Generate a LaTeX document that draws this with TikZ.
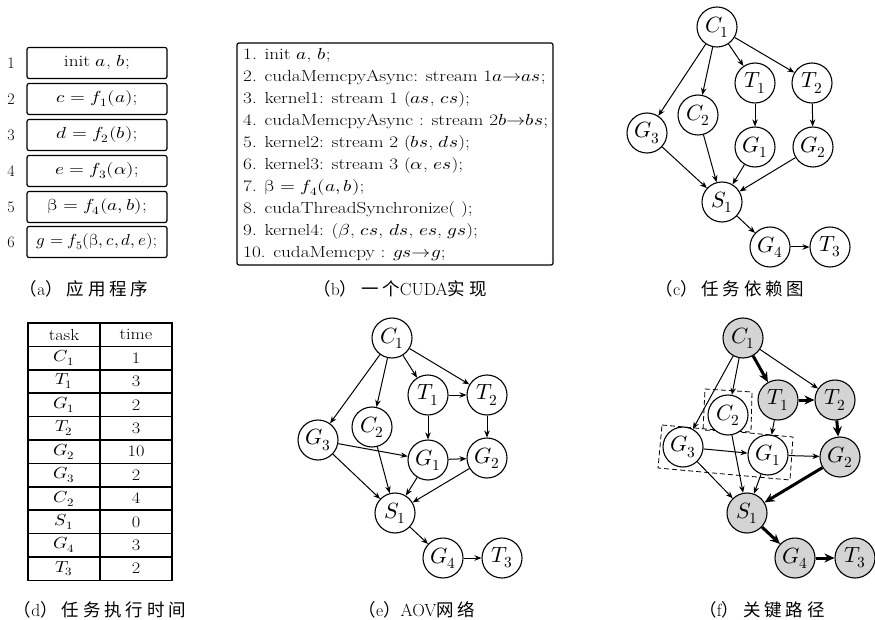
\documentclass[tikz,border=0pt]{standalone}
\usepackage{graphicx}
\usepackage{fontspec}
\usepackage{unicode-math}
\setmathfont{Latin Modern Math}
\newfontfamily\cjk[LetterSpace=22]{Noto Sans CJK SC}
\usetikzlibrary{arrows.meta}

\tikzset{
  vtx/.style={circle,draw,line width=1.1pt,minimum size=40pt,inner sep=0pt,fill=white,
    font=\fontsize{22}{22}\selectfont},
  hot/.style={vtx,fill=black!17},
  arr/.style={-{Stealth[length=7pt,width=5.5pt]},line width=1pt},
  crit/.style={-{Stealth[length=10pt,width=9pt]},line width=3pt},
  codebox/.style={draw,rounded corners=2pt,line width=1.2pt,minimum width=140pt,
    minimum height=31pt,inner sep=0pt,font=\fontsize{16}{16}\selectfont},
  rownum/.style={font=\fontsize{16}{16}\selectfont},
  codeline/.style={anchor=west,inner sep=0pt,font=\fontsize{16}{16}\selectfont},
  cell/.style={inner sep=0pt,font=\fontsize{16}{16}\selectfont},
  grid/.style={line width=1.5pt},
  caption/.style={font=\fontsize{17.5}{17.5}\selectfont},
  group/.style={dashed,dash pattern=on 5pt off 3pt,line width=0.8pt},
}
\newcommand\ul[1]{{\cjk #1}}
\newcommand\wide[1]{\scalebox{1.2}[1]{#1}}

\begin{document}
\begin{tikzpicture}[x=1pt,y=-1pt]
\useasboundingbox (0,0) rectangle (875,620);

% ---------- (a) program ----------
\foreach \n/\y in {1/63,2/99,3/135,4/171,5/207,6/242}
  \node[rownum] (num\n) at (11,\y) {\n};
\node[codebox] (s1) at (97,63)  {\wide{init $a$, $b$;}};
\node[codebox] (s2) at (97,99)  {\wide{$c=f_1(a)$;}};
\node[codebox] (s3) at (97,135) {\wide{$d=f_2(b)$;}};
\node[codebox] (s4) at (97,171) {\wide{$e=f_3(\alpha)$;}};
\node[codebox] (s5) at (97,207) {\wide{$\symup{\beta}=f_4(a,b)$;}};
\node[codebox] (s6) at (97,242) {\scalebox{1.06}[1]{$g=f_5(\symup{\beta},c,d,e)$;}};
\node[caption] (capa) at (84,289) {\ul{（}a\ul{）应用程序}};

% ---------- (b) CUDA code ----------
\node[draw,rounded corners=2pt,line width=1.2pt,minimum width=316pt,minimum height=222pt,
  inner sep=0pt] (cudabox) at (395,154) {};
\node[codeline] (l1)  at (243,56)    {\wide{1. init $a$, $b$;}};
\node[codeline] (l2)  at (243,77.9)  {\wide{2. cudaMemcpyAsync: stream 1$a$$\rightarrow$$as$;}};
\node[codeline] (l3)  at (243,99.8)  {\wide{3. kernel1: stream 1 ($as$, $cs$);}};
\node[codeline] (l4)  at (243,121.7) {\wide{4. cudaMemcpyAsync : stream 2$b$$\rightarrow$$bs$;}};
\node[codeline] (l5)  at (243,143.6) {\wide{5. kernel2: stream 2 ($bs$, $ds$);}};
\node[codeline] (l6)  at (243,165.5) {\wide{6. kernel3: stream 3 ($\alpha$, $es$);}};
\node[codeline] (l7)  at (243,187.4) {\wide{7. $\symup{\beta}=f_4(a, b)$;}};
\node[codeline] (l8)  at (243,209.3) {\wide{8. cudaThreadSynchronize( );}};
\node[codeline] (l9)  at (243,231.2) {\wide{9. kernel4: ($\beta$, $cs$, $ds$, $es$, $gs$);}};
\node[codeline] (l10) at (243,253.1) {\wide{10. cudaMemcpy : $gs$$\rightarrow$$g$;}};
\node[caption] (capb) at (400,289) {\ul{（}b\ul{）一个}CUDA\ul{实现}};

% ---------- (c) task dependency graph ----------
\node[vtx] (cC1) at (717,27)  {$C_1$};
\node[vtx] (cT1) at (755,83)  {$T_1$};
\node[vtx] (cT2) at (812,83)  {$T_2$};
\node[vtx] (cC2) at (698,115) {$C_2$};
\node[vtx] (cG3) at (647,133) {$G_3$};
\node[vtx] (cG1) at (755,147) {$G_1$};
\node[vtx] (cG2) at (813,147) {$G_2$};
\node[vtx] (cS1) at (722,202) {$S_1$};
\node[vtx] (cG4) at (770,247) {$G_4$};
\node[vtx] (cT3) at (830,247) {$T_3$};
\foreach \a/\b in {cC1/cG3,cC1/cC2,cC1/cT1,cC1/cT2,cT1/cG1,cT2/cG2,
                   cG3/cS1,cC2/cS1,cG1/cS1,cG2/cS1,cS1/cG4,cG4/cT3}
  \draw[arr] (\a) -- (\b);
\node[caption] (capc) at (730,289) {\ul{（}c\ul{）任务依赖图}};

% ---------- (d) task times ----------
\foreach \k in {1,...,10}
  \draw[grid] (28,{323+23.4*\k}) -- (172,{323+23.4*\k});
\draw[grid] (100,323) -- (100,580.4);
\draw[grid] (28,323) rectangle (172,580.4);
\foreach \t/\v [count=\k from 0] in {task/time,$C_1$/1,$T_1$/3,$G_1$/2,$T_2$/3,
      $G_2$/10,$G_3$/2,$C_2$/4,$S_1$/0,$G_4$/3,$T_3$/2}{
  \node[cell] (task\k) at (64,{323+23.4*(\k+0.5)}) {\scalebox{1.15}[1]{\t}};
  \node[cell] (time\k) at (136,{323+23.4*(\k+0.5)}) {\scalebox{1.15}[1]{\v}};
}
\node[caption] (capd) at (100,610) {\ul{（}d\ul{）任务执行时间}};

% ---------- (e) AOV network ----------
\node[vtx] (eC1) at (392,338) {$C_1$};
\node[vtx] (eT1) at (428,395) {$T_1$};
\node[vtx] (eT2) at (487,395) {$T_2$};
\node[vtx] (eC2) at (372,427) {$C_2$};
\node[vtx] (eG3) at (318,440) {$G_3$};
\node[vtx] (eG1) at (428,460) {$G_1$};
\node[vtx] (eG2) at (487,458) {$G_2$};
\node[vtx] (eS1) at (395,513) {$S_1$};
\node[vtx] (eG4) at (443,558) {$G_4$};
\node[vtx] (eT3) at (502,558) {$T_3$};
\foreach \a/\b in {eC1/eG3,eC1/eC2,eC1/eT1,eC1/eT2,eT1/eT2,eT1/eG1,eT2/eG2,
                   eG3/eG1,eG3/eS1,eC2/eS1,eG1/eG2,eG1/eS1,eG2/eS1,eS1/eG4,eG4/eT3}
  \draw[arr] (\a) -- (\b);
\node[caption] (cape) at (417,610) {\ul{（}e\ul{）}AOV\ul{网络}};

% ---------- (f) critical path ----------
\draw[group] (705,389) -- (752,392) -- (751,432) -- (703,430) -- cycle;
\draw[group] (662,425) -- (793,437) -- (790,480) -- (658,468) -- cycle;
\node[hot] (fC1) at (743,338) {$C_1$};
\node[hot] (fT1) at (778,400) {$T_1$};
\node[hot] (fT2) at (835,400) {$T_2$};
\node[vtx] (fC2) at (728,415) {$C_2$};
\node[vtx] (fG3) at (683,447) {$G_3$};
\node[vtx] (fG1) at (768,455) {$G_1$};
\node[hot] (fG2) at (840,457) {$G_2$};
\node[hot] (fS1) at (747,513) {$S_1$};
\node[hot] (fG4) at (795,558) {$G_4$};
\node[hot] (fT3) at (855,558) {$T_3$};
\foreach \a/\b in {fC1/fG3,fC1/fC2,fC1/fT2,fT1/fG1,fG3/fG1,fG3/fS1,fC2/fS1,fG1/fG2,fG1/fS1}
  \draw[arr] (\a) -- (\b);
\foreach \a/\b in {fC1/fT1,fT1/fT2,fT2/fG2,fG2/fS1,fS1/fG4,fG4/fT3}
  \draw[crit] (\a) -- (\b);
\node[caption] (capf) at (762,610) {\ul{（}f\ul{）关键路径}};
\end{tikzpicture}
\end{document}
